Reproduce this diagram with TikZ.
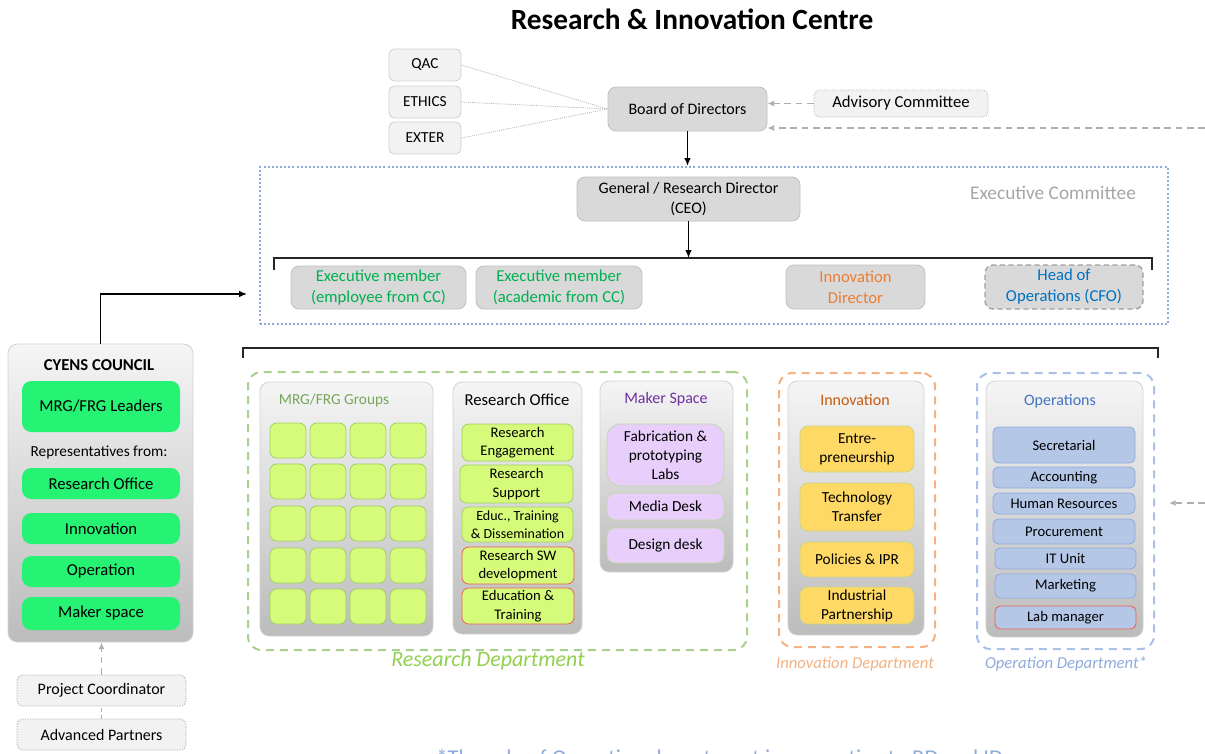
\documentclass[tikz,border=0pt]{standalone}
\usepackage{fontspec}
\setmainfont{Carlito}
\usetikzlibrary{arrows.meta}

% palette
\definecolor{cLight}{RGB}{242,242,242}
\definecolor{cLightLine}{RGB}{208,208,208}
\definecolor{cGrey}{RGB}{217,217,217}
\definecolor{cGreyLine}{RGB}{192,192,192}
\definecolor{cPanelTop}{RGB}{245,245,245}
\definecolor{cPanelBot}{RGB}{188,188,188}
\definecolor{cPanelLine}{RGB}{210,210,210}
\definecolor{cGreen}{RGB}{38,242,115}
\definecolor{cCell}{RGB}{214,251,122}
\definecolor{cCellLine}{RGB}{160,208,100}
\definecolor{cRed}{RGB}{232,96,84}
\definecolor{cLav}{RGB}{231,206,251}
\definecolor{cLavLine}{RGB}{190,218,168}
\definecolor{cYel}{RGB}{255,217,102}
\definecolor{cYelLine}{RGB}{205,212,140}
\definecolor{cBlu}{RGB}{180,199,231}
\definecolor{cBluLine}{RGB}{143,170,220}
\definecolor{cExec}{RGB}{142,170,219}
\definecolor{cExecTxt}{RGB}{166,166,166}
\definecolor{cGreenTxt}{RGB}{0,176,80}
\definecolor{cOrangeTxt}{RGB}{237,125,49}
\definecolor{cBlueTxt}{RGB}{0,112,192}
\definecolor{cResDept}{RGB}{169,209,142}
\definecolor{cResTxt}{RGB}{146,208,80}
\definecolor{cInnDept}{RGB}{244,177,131}
\definecolor{cOpsDept}{RGB}{170,192,232}
\definecolor{cOpsTxt}{RGB}{143,170,220}
\definecolor{cMrgTxt}{RGB}{118,166,90}
\definecolor{cMakerTxt}{RGB}{112,48,160}
\definecolor{cInnTxt}{RGB}{197,90,17}
\definecolor{cOpsTitle}{RGB}{68,114,196}
\definecolor{cBracket}{RGB}{38,38,38}
\definecolor{cArrowGrey}{RGB}{175,175,175}

% box from its corner coordinates: name, x1, y1, x2, y2, style, text
\newcommand{\mkbox}[7]{%
  \node[#6, minimum width={(#4-#2)*0.75pt}, minimum height={(#5-#3)*0.75pt}]
    (#1) at ({(#2+#4)/2},{(#3+#5)/2}) {#7};}

\begin{document}
\begin{tikzpicture}[x=0.75pt,y=-0.75pt,
  every node/.style={inner sep=0pt, align=center, font=\fontsize{12}{15.5}\selectfont},
  f11/.style={font=\fontsize{11}{14}\selectfont},
  f105/.style={font=\fontsize{10.5}{13.8}\selectfont},
  f115/.style={font=\fontsize{11.5}{14.3}\selectfont},
  f12/.style={font=\fontsize{12}{15.5}\selectfont},
  f125/.style={font=\fontsize{12.5}{15.8}\selectfont},
  lightbox/.style={draw=cLightLine, fill=cLight, rounded corners=4pt, line width=0.6pt},
  greybox/.style={draw=cGreyLine, fill=cGrey, rounded corners=6pt, line width=0.6pt},
  panel/.style={draw=cPanelLine, rounded corners=7pt, top color=cPanelTop, bottom color=cPanelBot, line width=0.6pt},
  cellbox/.style={draw=cCellLine, fill=cCell, rounded corners=5pt, line width=0.6pt},
  redline/.style={draw=cRed},
  greenbox/.style={fill=cGreen, rounded corners=7pt},
  lavbox/.style={draw=cLavLine, fill=cLav, rounded corners=6pt, line width=0.6pt},
  yelbox/.style={draw=cYelLine, fill=cYel, rounded corners=6pt, line width=0.6pt},
  blubox/.style={draw=cBluLine, fill=cBlu, rounded corners=4pt, line width=0.6pt},
  deptbox/.style={rounded corners=10pt, dash pattern=on 6pt off 4.5pt, line width=1.5pt},
  bracket/.style={draw=cBracket, line width=1.5pt},
  arrowblk/.style={draw=black, line width=1pt, -{Latex[length=6pt,width=5pt]}},
  arrowgrey/.style={draw=cArrowGrey, line width=1.2pt, dash pattern=on 5pt off 3.5pt, -{Latex[length=5pt,width=4.5pt]}},
  greydash/.style={draw=cArrowGrey, line width=1.2pt, dash pattern=on 3pt off 2pt},
  dotline/.style={draw=gray!55, line width=0.6pt, dash pattern=on 0.8pt off 0.8pt},
  dtitle/.style={font=\fontsize{16.5}{19}\selectfont\itshape},
  dsmall/.style={font=\fontsize{12.5}{15}\selectfont\itshape}
]
\useasboundingbox (0,0) rectangle (1205,753);

% heading
\node[font=\fontsize{22}{26}\selectfont\bfseries] (title) at (692,19) {Research \& Innovation Centre};

% board level
\mkbox{qac}{389}{49}{461}{81}{lightbox, f115}{QAC}
\mkbox{ethics}{389}{86}{461}{118}{lightbox, f115}{ETHICS}
\mkbox{exter}{389}{122}{461}{154}{lightbox, f115}{EXTER}
\mkbox{board}{608}{87}{767}{131}{greybox, f12}{Board of Directors}
\mkbox{adv}{814}{90}{988}{117}{draw=cGreyLine, fill=cLight, rounded corners=4pt, line width=0.6pt, dash pattern=on 1pt off 1pt, f125}{Advisory Committee}
\draw[dotline] (qac.east) -- (board.west);
\draw[dotline] (ethics.east) -- (board.west);
\draw[dotline] (exter.east) -- (board.west);
\draw[arrowgrey] (adv.west) -- (adv.west -| board.east);
\coordinate (extin) at (1205,128);
\draw[arrowgrey] (extin) -- (extin -| board.east);

% executive committee
\mkbox{exec}{260}{167}{1168}{324}{draw=cExec, line width=1.5pt, dash pattern=on 1.5pt off 1.6pt}{}
\node[text=cExecTxt, font=\fontsize{14.5}{17}\selectfont] (execlbl) at (1053,193) {Executive Committee};
\draw[arrowblk] (board.south) -- (board.south |- exec.north);
\mkbox{ceo}{577}{177}{800}{221}{greybox, f12}{General / Research Director\\(CEO)}
\coordinate (bra) at (274,270);
\coordinate (brb) at (274,258);
\coordinate (brc) at (1152,258);
\coordinate (brd) at (1152,270);
\draw[bracket] (bra) -- (brb) -- (brc) -- (brd);
\draw[arrowblk] (ceo.south) -- (ceo.south |- brb);
\mkbox{em1}{291}{266}{466}{309}{greybox, f125, text=cGreenTxt}{Executive member\\(employee from CC)}
\mkbox{em2}{476}{266}{642}{309}{greybox, f125, text=cGreenTxt}{Executive member\\(academic from CC)}
\mkbox{idir}{786}{265}{925}{309}{greybox, f125, text=cOrangeTxt}{Innovation\\Director}
\mkbox{cfo}{985}{265}{1143}{309}{greybox, draw=gray!75, dash pattern=on 4pt off 2.5pt, line width=1pt, f125, text=cBlueTxt}{Head of\\Operations (CFO)}

% council
\mkbox{council}{8}{344}{193}{642}{panel}{}
\node[font=\fontsize{12.5}{15}\selectfont\bfseries] (ctitle) at (99,365) {CYENS COUNCIL};
\mkbox{mrgl}{22}{381}{180}{432}{greenbox, f125}{MRG/FRG Leaders}
\node[f115] (reps) at (99,452) {Representatives from:};
\mkbox{cro}{22}{468}{180}{499}{greenbox, f125}{Research Office}
\mkbox{cinn}{22}{513}{180}{544}{greenbox, f125}{Innovation}
\mkbox{cop}{22}{556}{180}{587}{greenbox, f125}{Operation}
\mkbox{cmak}{22}{597}{180}{630}{greenbox, f125}{Maker space}
\coordinate (ccin) at (247,294);
\draw[arrowblk] (council.north) |- (ccin);
\mkbox{pc}{17}{675}{186}{706}{draw=gray!65, fill=cLight, rounded corners=4pt, line width=0.6pt, dash pattern=on 1pt off 1pt, f12}{Project Coordinator}
\mkbox{ap}{17}{719}{186}{750}{draw=gray!65, fill=cLight, rounded corners=4pt, line width=0.6pt, dash pattern=on 1pt off 1pt, f12}{Advanced Partners}
\draw[arrowgrey] (pc.north) -- (pc.north |- council.south);
\draw[greydash] (ap.north) -- (pc.south);

% departments bracket
\coordinate (bka) at (243,358);
\coordinate (bkb) at (243,348);
\coordinate (bkc) at (1158,348);
\coordinate (bkd) at (1158,358);
\draw[bracket] (bka) -- (bkb) -- (bkc) -- (bkd);

% research department
\mkbox{rdept}{248}{372}{747}{650}{deptbox, draw=cResDept}{}
\node[dtitle, text=cResTxt] (rdlbl) at (488,661) {Research Department};
\mkbox{mrgp}{260}{382}{433}{636}{panel}{}
\node[f115, text=cMrgTxt] (mrgt) at (334,400) {MRG/FRG Groups};
\foreach \c/\xa in {1/270,2/310,3/350,4/390}
  \foreach \r/\ya in {1/423,2/464,3/506,4/548,5/589}
    {\mkbox{g\r\c}{\xa}{\ya}{\xa+36}{\ya+35}{cellbox}{}}
\mkbox{rop}{453}{382}{582}{634}{panel}{}
\node[f125] (rot) at (517,400) {Research Office};
\mkbox{re}{462}{424}{573}{461}{cellbox, f11}{Research\\Engagement}
\mkbox{rs}{460}{465}{573}{503}{cellbox, f11}{Research\\Support}
\mkbox{etd}{462}{507}{573}{542}{cellbox, f105}{Educ., Training\\\& Dissemination}
\mkbox{rsw}{462}{547}{574}{584}{cellbox, redline, f11}{Research SW\\development}
\mkbox{edt}{462}{588}{574}{624}{cellbox, redline, f11}{Education \&\\Training}
\mkbox{makp}{600}{381}{733}{572}{panel}{}
\node[f12, text=cMakerTxt] (makt) at (666,399) {Maker Space};
\mkbox{fpl}{607}{424}{724}{486}{lavbox, rounded corners=10pt, f115}{Fabrication \&\\prototyping\\Labs}
\mkbox{md}{607}{493}{724}{520}{lavbox, f115}{Media Desk}
\mkbox{dd}{607}{528}{724}{563}{lavbox, f115}{Design desk}

% innovation department
\mkbox{idept}{779}{373}{935}{647}{deptbox, draw=cInnDept}{}
\node[dsmall, text=cInnDept] (idlbl) at (855,664) {Innovation Department};
\mkbox{innp}{788}{381}{924}{635}{panel}{}
\node[f12, text=cInnTxt] (innt) at (855,400) {Innovation};
\mkbox{ent}{800}{426}{914}{472}{yelbox, f115}{Entre-\\preneurship}
\mkbox{tt}{800}{483}{914}{531}{yelbox, f115}{Technology\\Transfer}
\mkbox{pol}{800}{542}{914}{577}{yelbox, f115}{Policies \& IPR}
\mkbox{ind}{800}{587}{914}{624}{yelbox, f115}{Industrial\\Partnership}

% operation department
\mkbox{odept}{977}{373}{1154}{649}{deptbox, draw=cOpsDept}{}
\node[dsmall, text=cOpsTxt] (odlbl) at (1066,664) {Operation Department*};
\mkbox{opsp}{986}{381}{1143}{637}{panel}{}
\node[f12, text=cOpsTitle] (opst) at (1060,401) {Operations};
\mkbox{sec}{993}{427}{1135}{463}{blubox, f11}{Secretarial}
\mkbox{acc}{993}{467}{1135}{488}{blubox, f11}{Accounting}
\mkbox{hr}{993}{493}{1135}{514}{blubox, f11}{Human Resources}
\mkbox{proc}{993}{519}{1135}{544}{blubox, f11}{Procurement}
\mkbox{itu}{995}{548}{1136}{569}{blubox, f11}{IT Unit}
\mkbox{mkt}{995}{574}{1136}{598}{blubox, f11}{Marketing}
\mkbox{lab}{995}{606}{1136}{629}{blubox, redline, f11}{Lab manager}
\coordinate (opin) at (1205,503);
\coordinate (opend) at (1169,503);
\draw[arrowgrey] (opin) -- (opend);

% footnote running off the lower edge of the page
\begin{scope}
\clip (0,0) rectangle (1205,753);
\node[anchor=base west, font=\fontsize{17}{20}\selectfont, text=cOpsTxt] (note) at (436,765) {*The role of Operation department is supportive to RD and ID};
\end{scope}
\end{tikzpicture}
\end{document}
